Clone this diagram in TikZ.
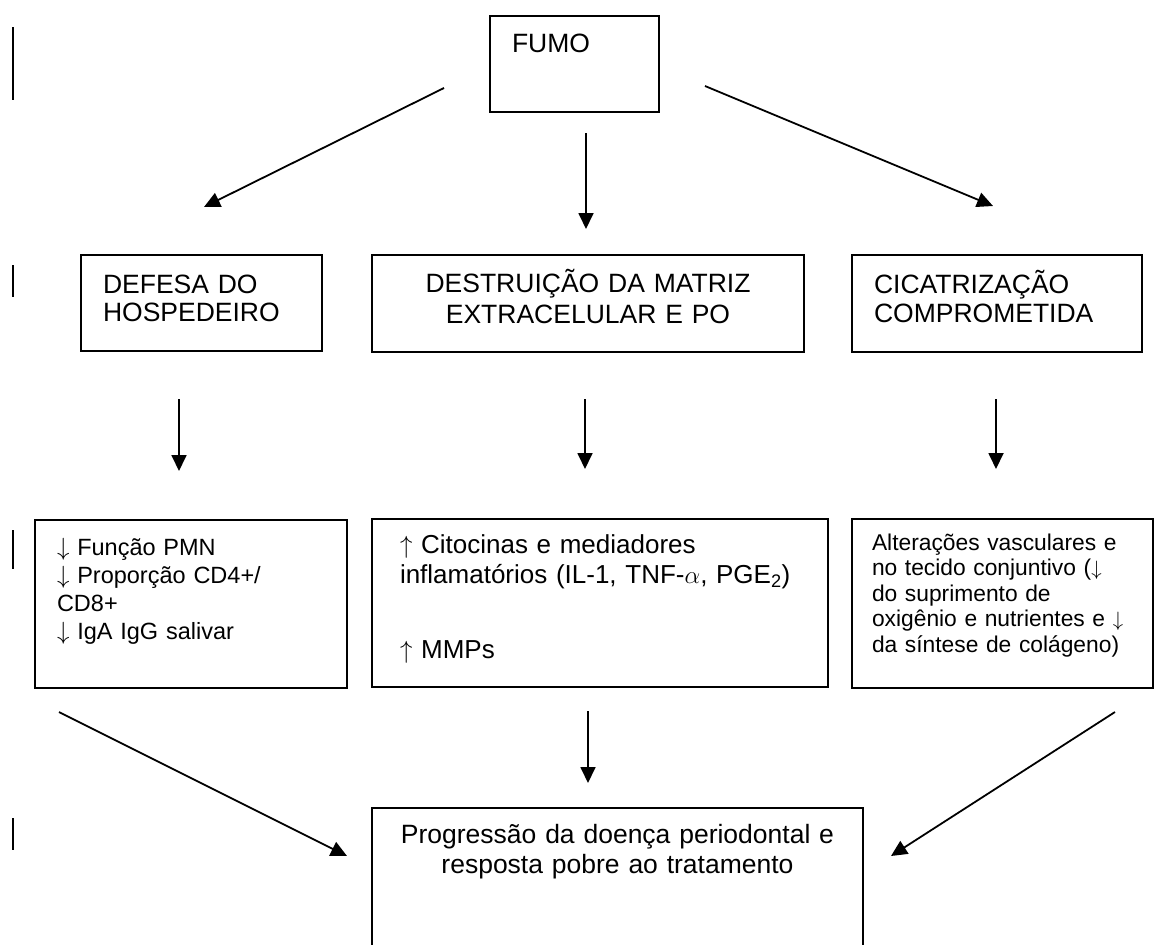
\documentclass[tikz,border=0pt]{standalone}
\usepackage{fontspec}
\setmainfont{Liberation Sans}
\usetikzlibrary{arrows.meta}

\newcommand{\dn}{$\downarrow$}
\newcommand{\upa}{$\uparrow$}

\begin{document}
\begin{tikzpicture}[x=1pt, y=-1pt,
    blk/.style={draw, line width=2.2pt, inner ysep=0pt, outer sep=0pt, anchor=north west},
    arr/.style={line width=1.8pt, -{Triangle[length=16pt,width=15pt]}}]
    \useasboundingbox (0,0) rectangle (1154,945);
    \clip (0,0) rectangle (1154,945);
    % margin marks
    \foreach \ya/\yb in {27/100, 265/297, 530/569, 818/850}
        \draw[line width=2.2pt] (13,\ya) -- (13,\yb);
    % top
    \node[blk, inner xsep=22pt, text width=125pt, text height=36pt, text depth=60pt, align=left,
        font=\fontsize{26.5}{29}\selectfont] (fumo) at (490,16) {FUMO};
    % second row
    \node[blk, inner xsep=22pt, text width=197pt, text height=38pt, text depth=58pt, align=left,
        font=\fontsize{26.5}{28.5}\selectfont] (defesa) at (81,255) {DEFESA DO\\HOSPEDEIRO};
    \node[blk, inner xsep=10pt, text width=412pt, text height=37pt, text depth=60pt, align=center,
        font=\fontsize{26.5}{31}\selectfont] (destr) at (372,255) {DESTRUIÇÃO DA MATRIZ\\EXTRACELULAR E PO};
    \node[blk, inner xsep=22pt, text width=246pt, text height=38pt, text depth=59pt, align=left,
        font=\fontsize{26.5}{29}\selectfont] (cicat) at (852,255) {CICATRIZAÇÃO\\COMPROMETIDA};
    % third row
    \node[blk, inner xsep=22pt, text width=268pt, text height=35pt, text depth=133pt, align=left,
        font=\fontsize{23.5}{28.3}\selectfont] (funcao) at (35,520)
        {\dn\ Função PMN\\\dn\ Proporção CD4+/\\CD8+\\\dn\ IgA IgG salivar};
    \node[blk, inner xsep=28pt, text width=400pt, text height=34pt, text depth=134pt, align=left,
        font=\fontsize{26}{30}\selectfont] (citoc) at (372,519)
        {{\fontsize{30}{30}\selectfont\upa} Citocinas e mediadores\\inflamatórios (IL-1, TNF-$\alpha$, PGE\textsubscript{2})\\[45pt]\upa\ MMPs};
    \node[blk, inner xsep=20pt, text width=261pt, text height=31pt, text depth=138pt, align=left,
        font=\fontsize{22.8}{25.5}\selectfont] (alter) at (852,519)
        {Alterações vasculares e\\no tecido conjuntivo (\dn\\do suprimento de\\oxigênio e nutrientes e \dn\\da síntese de colágeno)};
    % bottom
    \node[blk, inner xsep=10pt, text width=471pt, text height=35pt, text depth=130pt, align=center,
        font=\fontsize{26.5}{30}\selectfont] (progr) at (372,808)
        {Progressão da doença periodontal e\\resposta pobre ao tratamento};
    % free ends of the connectors
    \coordinate (fumoA) at (444,88);   \coordinate (defesaIn) at (204,207);
    \coordinate (fumoB) at (586,133);  \coordinate (destrIn) at (586,229);
    \coordinate (fumoC) at (705,86);   \coordinate (cicatIn) at (993,206);
    \coordinate (defesaOut) at (179,399); \coordinate (funcaoIn) at (179,471);
    \coordinate (destrOut) at (585,399);  \coordinate (citocIn) at (585,469);
    \coordinate (cicatOut) at (996,399);  \coordinate (alterIn) at (996,469);
    \coordinate (funcaoOut) at (59,712);  \coordinate (progrA) at (347,856);
    \coordinate (citocOut) at (588,711);  \coordinate (progrB) at (588,783);
    \coordinate (alterOut) at (1115,712); \coordinate (progrC) at (891,856);
    \draw[arr] (fumoA) -- (defesaIn);
    \draw[arr] (fumoB) -- (destrIn);
    \draw[arr] (fumoC) -- (cicatIn);
    \draw[arr] (defesaOut) -- (funcaoIn);
    \draw[arr] (destrOut) -- (citocIn);
    \draw[arr] (cicatOut) -- (alterIn);
    \draw[arr] (funcaoOut) -- (progrA);
    \draw[arr] (citocOut) -- (progrB);
    \draw[arr] (alterOut) -- (progrC);
\end{tikzpicture}
\end{document}
